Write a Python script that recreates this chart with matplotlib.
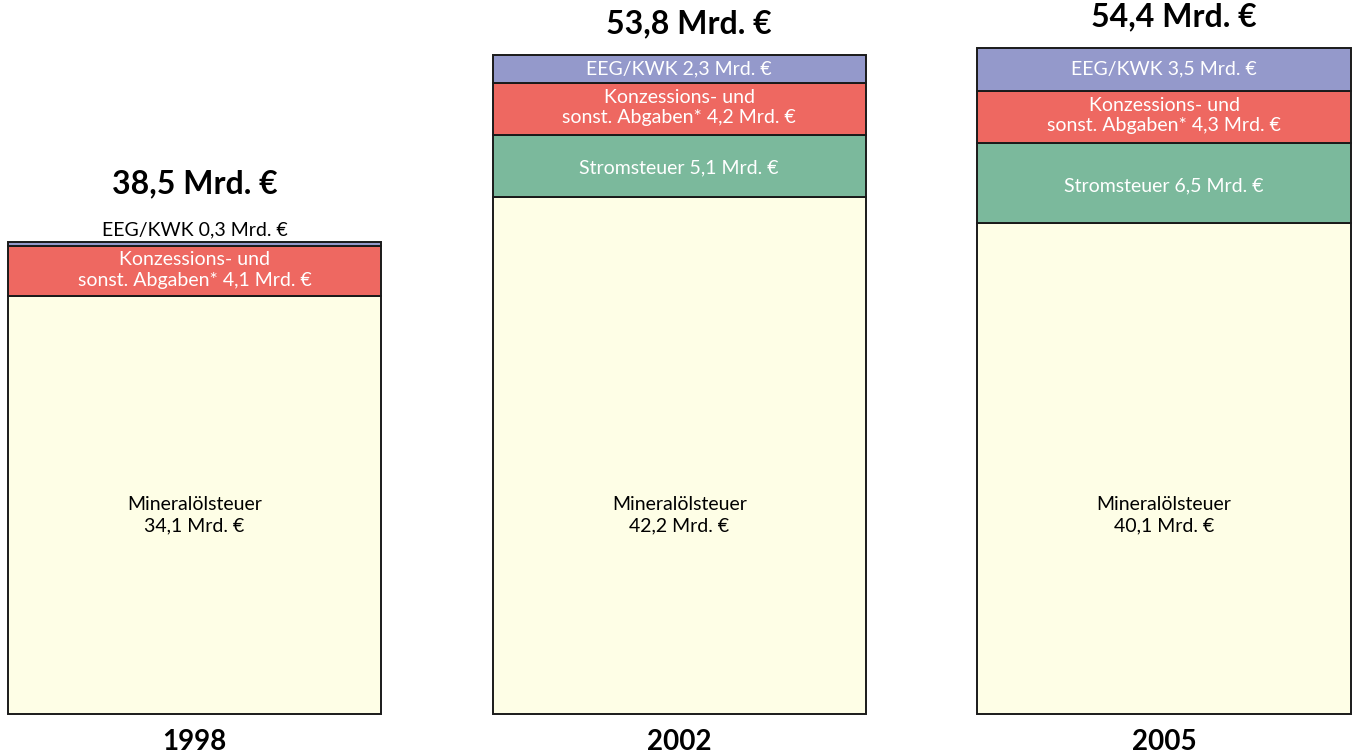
import matplotlib.pyplot as plt
import numpy as np

years = ["1998", "2002", "2005"]
totals = ["38,5", "53,8", "54,4"]

mineraloel = [34.1, 42.2, 40.1]
stromsteuer = [0.0, 5.1, 6.5]
konzession = [4.1, 4.2, 4.3]
eeg_kwk = [0.3, 2.3, 3.5]

colors = {
    "mineral": "#FEFEE6",
    "strom": "#7BB99C",
    "konz": "#EE6861",
    "eeg": "#9499CB",
}


def fmt(v):
    return f"{v:.1f}".replace(".", ",")


plt.rcParams["font.family"] = ["Lato", "DejaVu Sans"]

fig = plt.figure(figsize=(13.56, 7.55), dpi=100)
ax = fig.add_axes([0, 0, 1, 1])

x = np.arange(len(years))
width = 0.77
edge = dict(edgecolor="#1a1a1a", linewidth=1.4)

b0 = np.zeros(len(years))
ax.bar(x, mineraloel, width, bottom=b0, color=colors["mineral"], **edge)
b1 = b0 + np.array(mineraloel)
ax.bar(x, stromsteuer, width, bottom=b1, color=colors["strom"], **edge)
b2 = b1 + np.array(stromsteuer)
ax.bar(x, konzession, width, bottom=b2, color=colors["konz"], **edge)
b3 = b2 + np.array(konzession)
ax.bar(x, eeg_kwk, width, bottom=b3, color=colors["eeg"], **edge)
top = b3 + np.array(eeg_kwk)

fs = 14
big = 23
for i in range(len(years)):
    # Mineralölsteuer label sits at the same height in every bar
    ax.text(x[i], 16.2, f"Mineralölsteuer\n{fmt(mineraloel[i])} Mrd. €",
            ha="center", va="center", fontsize=fs, color="black", linespacing=1.3)
    if stromsteuer[i] > 0:
        ax.text(x[i], b1[i] + stromsteuer[i] / 2 - 0.2,
                f"Stromsteuer {fmt(stromsteuer[i])} Mrd. €",
                ha="center", va="center", fontsize=fs, color="white")
    ax.text(x[i], b2[i] + konzession[i] / 2 + 0.1,
            f"Konzessions- und\nsonst. Abgaben* {fmt(konzession[i])} Mrd. €",
            ha="center", va="center", fontsize=fs, color="white", linespacing=1.25)
    if eeg_kwk[i] >= 1:
        ax.text(x[i], b3[i] + eeg_kwk[i] / 2,
                f"EEG/KWK {fmt(eeg_kwk[i])} Mrd. €",
                ha="center", va="center", fontsize=fs, color="white")
        ax.text(x[i] + 0.02, top[i] + 2.55, f"{totals[i]} Mrd. €",
                ha="center", va="center", fontsize=big, fontweight="bold")
    else:
        ax.text(x[i], top[i] + 1.0, f"EEG/KWK {fmt(eeg_kwk[i])} Mrd. €",
                ha="center", va="center", fontsize=fs, color="black")
        ax.text(x[i], top[i] + 4.8, f"{totals[i]} Mrd. €",
                ha="center", va="center", fontsize=big, fontweight="bold")
    ax.text(x[i], -2.25, years[i], ha="center", va="center",
            fontsize=20, fontweight="bold")

ax.set_xlim(-0.401, 2.396)
ax.set_ylim(-3.35, 58.29)
ax.axis("off")

fig.savefig("out.png", dpi=100, facecolor="white")
